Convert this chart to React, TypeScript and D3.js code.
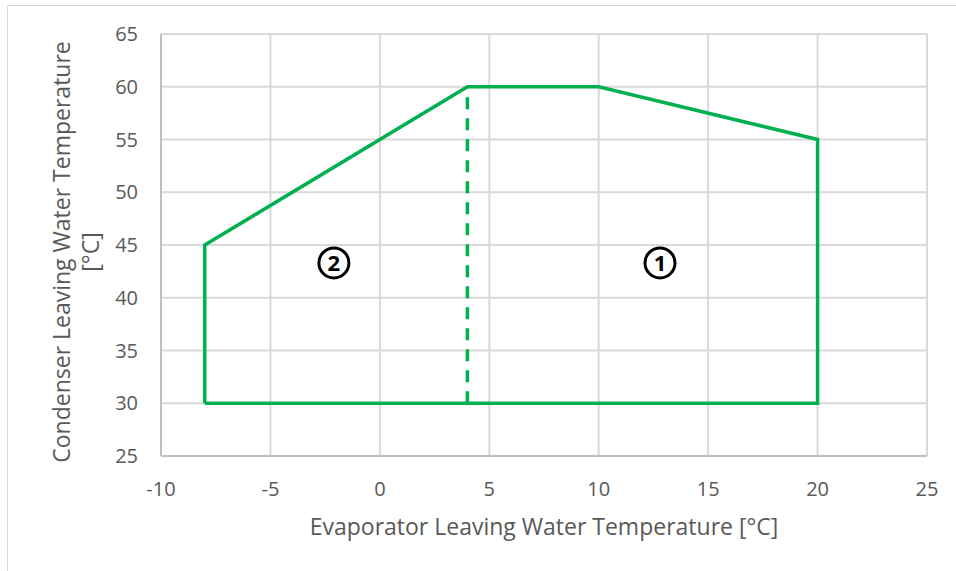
import React from 'react';
import * as d3 from 'd3';

// envelope outline (evaporator LWT, condenser LWT)
const envelopeX = [-8, -8, 4, 10, 20, 20, -8];
const envelopeY = [30, 45, 60, 60, 55, 30, 30];

// dashed split between zone 1 and zone 2
const splitX = [4, 4];
const splitY = [30, 60];

// zone markers
const zoneLabels = ['2', '1'];
const zoneX = [-2.1, 12.8];
const zoneY = [43.3, 43.3];

const xTicks = [-10, -5, 0, 5, 10, 15, 20, 25];
const yTicks = [25, 30, 35, 40, 45, 50, 55, 60, 65];

const xTitle = 'Evaporator Leaving Water Temperature [°C]';
const yTitle = ['Condenser Leaving Water Temperature', '[°C]'];

const W = 956;
const H = 571;
const font = '"Open Sans", sans-serif';
const textColor = '#595959';
const green = '#00b050';

const App = () => {
  const margin = { top: 34, right: 29, bottom: 115, left: 161 };
  const x = d3.scaleLinear().domain([-10, 25]).range([margin.left, W - margin.right]);
  const y = d3.scaleLinear().domain([25, 65]).range([H - margin.bottom, margin.top]);

  const line = d3
    .line<number>()
    .x((d) => x(d))
    .y((d, i) => y(envelopeY[i]));
  const splitLine = d3
    .line<number>()
    .x((d) => x(d))
    .y((d, i) => y(splitY[i]));

  const x0 = x(-10);
  const x1 = x(25);
  const y0 = y(25);
  const y1 = y(65);

  return (
    <svg
      width={W}
      height={H}
      style={{ position: 'absolute', left: 0, top: 0, background: '#fff' }}
    >
      <rect x={7.5} y={5.5} width={970} height={600} fill="#fff" stroke="#d9d9d9" strokeWidth={1} />

      {/* gridlines */}
      {xTicks.map((t) => (
        <line key={'gx' + t} x1={x(t)} x2={x(t)} y1={y1} y2={y0} stroke="#d9d9d9" strokeWidth={2} />
      ))}
      {yTicks.map((t) => (
        <line key={'gy' + t} x1={x0} x2={x1} y1={y(t)} y2={y(t)} stroke="#d9d9d9" strokeWidth={2} />
      ))}
      {/* axis lines */}
      <line x1={x0} x2={x0} y1={y1} y2={y0} stroke="#bfbfbf" strokeWidth={2} />
      <line x1={x0} x2={x1} y1={y0} y2={y0} stroke="#bfbfbf" strokeWidth={2} />

      {/* envelope */}
      <path d={line(envelopeX) || ''} fill="none" stroke={green} strokeWidth={3.5} strokeLinejoin="miter" />
      <path d={splitLine(splitX) || ''} fill="none" stroke={green} strokeWidth={3.5} strokeDasharray="12,9" />

      {/* zone markers */}
      {zoneLabels.map((lab, i) => (
        <g key={'z' + lab} transform={`translate(${x(zoneX[i])},${y(zoneY[i])})`}>
          <circle r={15} fill="none" stroke="#000" strokeWidth={3} />
          <text
            textAnchor="middle"
            dy="0.36em"
            fontFamily={font}
            fontWeight="bold"
            fontSize={22}
            fill="#000"
          >
            {lab}
          </text>
        </g>
      ))}

      {/* tick labels */}
      {xTicks.map((t) => (
        <text
          key={'tx' + t}
          x={x(t)}
          y={496}
          textAnchor="middle"
          fontFamily={font}
          fontSize={20}
          fill={textColor}
        >
          {t}
        </text>
      ))}
      {yTicks.map((t) => (
        <text
          key={'ty' + t}
          x={138}
          y={y(t)}
          dy="0.36em"
          textAnchor="end"
          fontFamily={font}
          fontSize={20}
          fill={textColor}
        >
          {t}
        </text>
      ))}

      {/* axis titles */}
      <text x={544} y={535} textAnchor="middle" fontFamily={font} fontSize={23} fill={textColor}>
        {xTitle}
      </text>
      <g transform="translate(70,252) rotate(-90)">
        {yTitle.map((s, i) => (
          <text key={s} x={0} y={i * 29} textAnchor="middle" fontFamily={font} fontSize={23} fill={textColor}>
            {s}
          </text>
        ))}
      </g>
    </svg>
  );
};

export default App;
